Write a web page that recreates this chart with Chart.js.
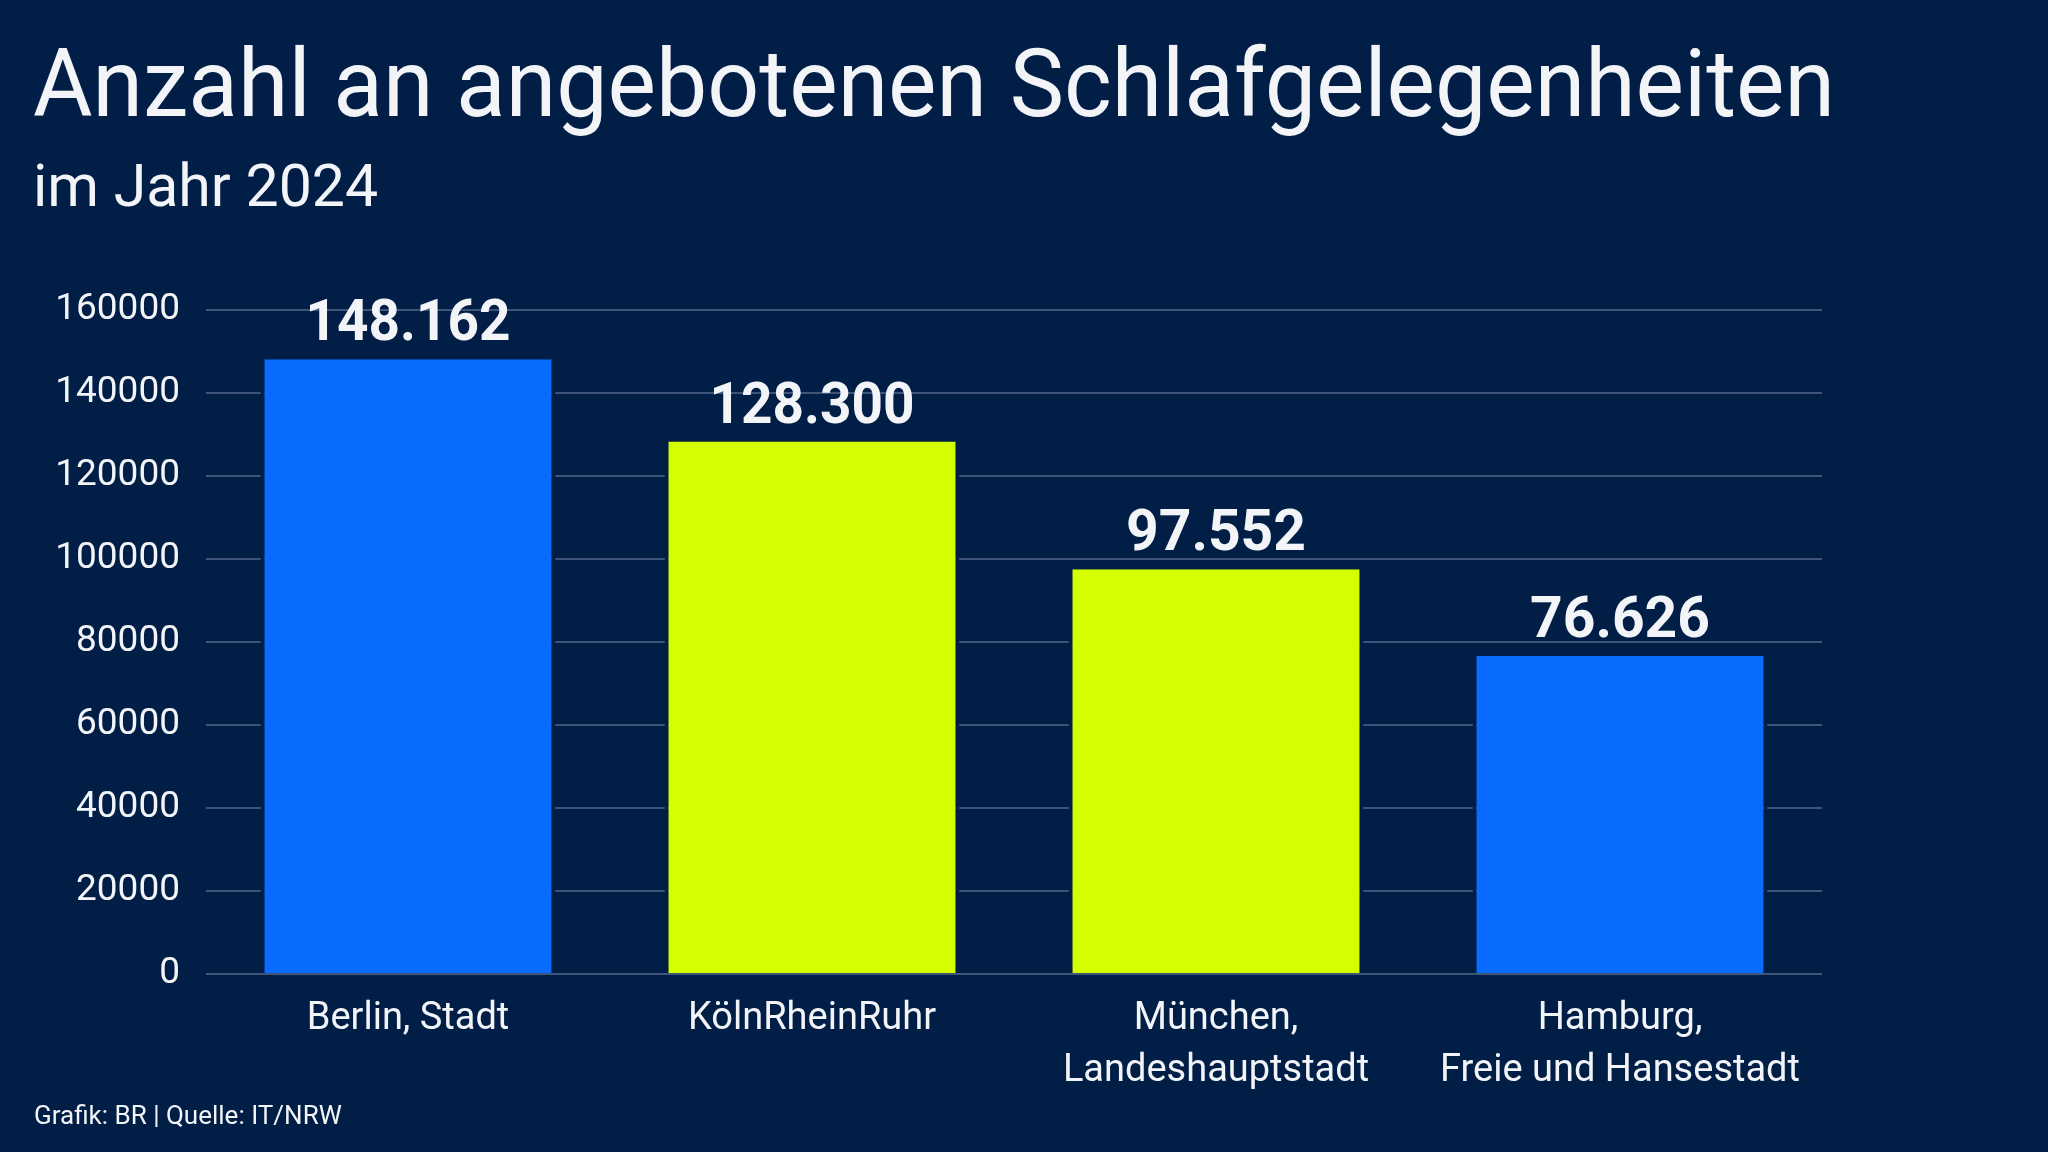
<!DOCTYPE html>
<html>
<head>
<meta charset="utf-8">
<script src="https://cdn.jsdelivr.net/npm/chart.js@4/dist/chart.umd.min.js"></script>
<style>
  html, body { margin: 0; padding: 0; background: #011e46; }
  #wrap { width: 2048px; height: 1152px; position: relative; }
</style>
</head>
<body>
<div id="wrap"><canvas id="c" width="2048" height="1152"></canvas></div>
<script>
const categories = [
  "Berlin, Stadt",
  "KölnRheinRuhr",
  ["München,", "Landeshauptstadt"],
  ["Hamburg,", "Freie und Hansestadt"]
];
const values = [148162, 128300, 97552, 76626];
const barColors = ["#0a6cff", "#d4ff00", "#d4ff00", "#0a6cff"];
const yTicks = [0, 20000, 40000, 60000, 80000, 100000, 120000, 140000, 160000];
const titleText = "Anzahl an angebotenen Schlafgelegenheiten";
const subtitleText = "im Jahr 2024";
const footerText = "Grafik: BR | Quelle: IT/NRW";

const BG = "#011e46";
const TXT = "#f2f4f8";
const FONT = "Roboto, 'Noto Sans', sans-serif";

function fmtDE(v) {
  return String(v).replace(/\B(?=(\d{3})+(?!\d))/g, ".");
}

const bgPlugin = {
  id: "bg",
  beforeDraw(chart) {
    const ctx = chart.ctx;
    ctx.save();
    ctx.fillStyle = BG;
    ctx.fillRect(0, 0, chart.width, chart.height);
    ctx.restore();
  }
};

const textPlugin = {
  id: "texts",
  afterDraw(chart) {
    const ctx = chart.ctx;
    ctx.save();
    ctx.fillStyle = TXT;
    ctx.textAlign = "left";
    ctx.textBaseline = "alphabetic";
    ctx.font = "400 94px " + FONT;
    ctx.fillText(titleText, 33, 116, 1802);
    ctx.font = "400 59px " + FONT;
    ctx.fillText(subtitleText, 33, 206, 352);
    ctx.font = "400 26px " + FONT;
    ctx.fillText(footerText, 34, 1124, 318);

    // value labels
    const meta = chart.getDatasetMeta(0);
    ctx.font = "700 57px " + FONT;
    ctx.textAlign = "center";
    ctx.textBaseline = "alphabetic";
    meta.data.forEach((bar, i) => {
      ctx.fillText(fmtDE(values[i]), bar.x, bar.y - 19, 205);
    });
    ctx.restore();
  }
};

new Chart(document.getElementById("c"), {
  type: "bar",
  data: {
    labels: categories,
    datasets: [{
      data: values,
      backgroundColor: barColors,
      borderColor: BG,
      borderWidth: { left: 4, right: 4, top: 0, bottom: 0 },
      borderSkipped: false,
      barPercentage: 0.73,
      categoryPercentage: 1.0
    }]
  },
  options: {
    responsive: false,
    animation: false,
    devicePixelRatio: 1,
    layout: { padding: { left: 0, right: 226, top: 310, bottom: 38 } },
    plugins: {
      legend: { display: false },
      tooltip: { enabled: false },
      title: { display: false }
    },
    scales: {
      x: {
        grid: { display: false, drawTicks: false },
        border: { display: false },
        ticks: {
          color: TXT,
          font: { family: FONT, size: 38, lineHeight: 1.37 },
          padding: 19,
          maxRotation: 0,
          autoSkip: false
        },
        afterFit(scale) { scale.height = 140; }
      },
      y: {
        min: 0,
        max: 160000,
        afterBuildTicks(scale) { scale.ticks = yTicks.map(v => ({ value: v })); },
        grid: { color: "#3e5479", lineWidth: 2, drawTicks: false },
        border: { display: false },
        ticks: {
          color: TXT,
          font: { family: FONT, size: 37 },
          padding: 26,
          callback: v => String(v)
        },
        afterFit(scale) { scale.width = 206; }
      }
    }
  },
  plugins: [bgPlugin, textPlugin]
});
</script>
</body>
</html>
